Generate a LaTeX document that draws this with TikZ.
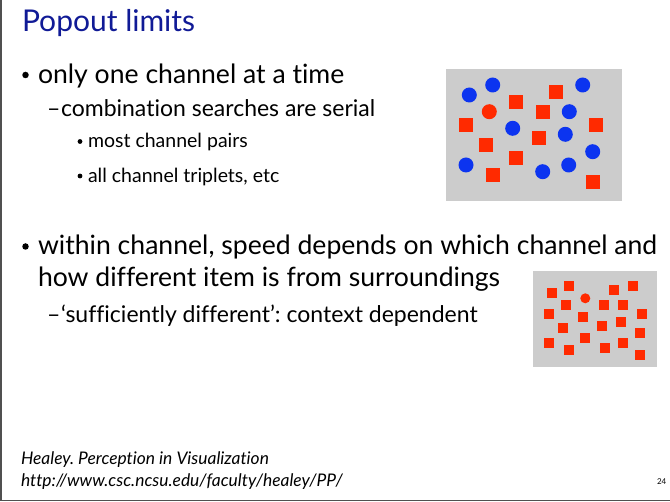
\documentclass[tikz,border=0pt]{standalone}
\usepackage{fontspec}
\setmainfont[Ligatures={NoCommon}]{Lato}
\frenchspacing
\definecolor{titleblue}{RGB}{16,26,150}
\definecolor{panelgrey}{RGB}{204,204,204}
\definecolor{dotred}{RGB}{255,42,0}
\definecolor{dotblue}{RGB}{12,52,240}
\definecolor{framegrey}{RGB}{80,80,80}
\begin{document}
\begin{tikzpicture}[x=1pt,y=-1pt,
  txt/.style={anchor=base west,inner sep=0pt,outer sep=0pt},
  lvlone/.style={txt,font=\fontsize{26.6}{30}\selectfont},
  lvltwo/.style={txt,font=\fontsize{23}{27}\selectfont},
  lvlthree/.style={txt,font=\fontsize{19.5}{23}\selectfont},
  foot/.style={txt,font=\fontsize{17.4}{20}\selectfont\itshape},
  bigbul/.style={circle,fill=black,inner sep=0pt,minimum size=6.5pt},
  smallbul/.style={circle,fill=black,inner sep=0pt,minimum size=4.8pt},
  panel/.style={fill=panelgrey,draw=none},
  bdot/.style={circle,fill=dotblue,inner sep=0pt,minimum size=15pt},
  rdot/.style={circle,fill=dotred,inner sep=0pt,minimum size=15pt},
  rsq/.style={rectangle,fill=dotred,inner sep=0pt,minimum size=14pt},
  sdot/.style={circle,fill=dotred,inner sep=0pt,minimum size=10pt},
  ssq/.style={rectangle,fill=dotred,inner sep=0pt,minimum size=10pt}]
\useasboundingbox (0,0) rectangle (670,502);
\fill[white] (0,0) rectangle (670,502);
% frame
\draw[framegrey,line width=1.5pt] (1,0) -- (1,500.5) -- (670,500.5);
% title
\node[txt,font=\fontsize{30}{34}\selectfont,text=titleblue] (title) at (22,32) {Popout limits};
% bullets
\node[bigbul] (b1m) at (25.5,75) {};
\node[lvlone] (b1) at (38,83.3) {only one channel at a time};
\node[lvltwo] (b2m) at (47,116.5) {–};
\node[lvltwo] (b2) at (61,116.5) {combination searches are serial};
\node[smallbul] (b3m) at (80,141.5) {};
\node[lvlthree] (b3) at (88,148) {most channel pairs};
\node[smallbul] (b4m) at (80,176) {};
\node[lvlthree] (b4) at (88,182.5) {all channel triplets, etc};
\node[bigbul] (b5m) at (25.5,246.5) {};
\node[lvlone] (b5) at (38,255) {within channel, speed depends on which channel and};
\node[lvlone] (b6) at (38,286.7) {how different item is from surroundings};
\node[lvltwo] (b7m) at (47,323) {–};
\node[lvltwo] (b7) at (61,323) {‘sufficiently different’: context dependent};
% footer
\node[foot] (f1) at (21,464.5) {Healey. Perception in Visualization};
\node[foot] (f2) at (21,486.5) {http://www.csc.ncsu.edu/faculty/healey/PP/};
\node[txt,font=\fontsize{8}{10}\selectfont] (pg) at (657,485) {24};
% panel 1
\fill[panel] (446,69) rectangle (622,201);
\foreach \x/\y in {469.3/95,492.7/85,582.7/85,569.3/111.7,512.7/128.3,565.3/134.3,592.7/151.7,466/165,568.7/165,542.7/171.7}
  \node[bdot] at (\x,\y) {};
\node[rdot] (odd1) at (489.3,111.7) {};
\foreach \x/\y in {516/101.7,556/91.7,542.7/111.7,466/125,596/125,486/145,539.3/138.3,516/158.3,492.7/175,592.7/181.7}
  \node[rsq] at (\x,\y) {};
% panel 2
\fill[panel] (533,271) rectangle (657,367);
\node[sdot] (odd2) at (585.3,298.3) {};
\foreach \x/\y in {552/293,568.7/286.3,614/290.3,632.7/286.3,566/305,604/305,623.3/305,549.3/314.3,582.7/316.7,642/314.3,563.3/328.3,602/326,620.7/321.7,549.3/343.3,585.3/338.3,640/333.3,568.7/350,604.7/347.7,623.3/343.3,640/355}
  \node[ssq] at (\x,\y) {};
\end{tikzpicture}
\end{document}
